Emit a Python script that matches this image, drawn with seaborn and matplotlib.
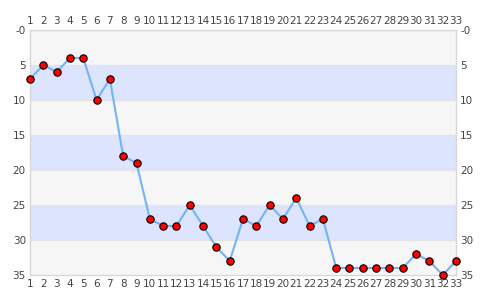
import matplotlib
matplotlib.use("Agg")
import matplotlib.pyplot as plt
import seaborn as sns
import pandas as pd

positions = list(range(1, 34))
values = [7, 5, 6, 4, 4, 10, 7, 18, 19, 27, 28, 28, 25, 28, 31, 33, 27, 28, 25, 27,
          24, 28, 27, 34, 34, 34, 34, 34, 34, 32, 33, 35, 33]
y_ticks = [0, 5, 10, 15, 20, 25, 30, 35]
y_tick_labels = ["-0", "5", "10", "15", "20", "25", "30", "35"]

sns.set_style("white")
plt.rcParams['font.family'] = ['DejaVu Sans']

fig = plt.figure(figsize=(4.85, 3.0), dpi=100)
ax = fig.add_axes([30/485, 1-275/300, (456-30)/485, (275-30)/300])

df = pd.DataFrame({"pos": positions, "val": values})

# bands
for i, (lo, hi) in enumerate(zip(y_ticks[:-1], y_ticks[1:])):
    ax.axhspan(lo, hi, color="#f6f6f6" if i % 2 == 0 else "#dde4fe", lw=0, zorder=0)
for t in y_ticks[1:-1]:
    ax.axhline(t, color="#e2e2e2", lw=0.8, zorder=0.5)

sns.lineplot(data=df, x="pos", y="val", ax=ax, color="#74b4f4", lw=1.5,
             marker="o", markersize=5.3, markerfacecolor="#ff0000",
             markeredgecolor="black", markeredgewidth=0.8, clip_on=False, zorder=3)

ax.set_xlim(1, 33)
ax.set_ylim(35, 0)
ax.set_xticks(positions)
ax.set_xticklabels([str(p) for p in positions])
ax.set_yticks(y_ticks)
ax.set_yticklabels(y_tick_labels)
ax.set_xlabel("")
ax.set_ylabel("")
ax.tick_params(axis="both", length=0, labelsize=7.5, colors="#444444",
               labeltop=True, labelright=True, pad=3)
for s in ax.spines.values():
    s.set_color("#d8d8d8")
    s.set_linewidth(1)

fig.savefig("out.png", dpi=100)
